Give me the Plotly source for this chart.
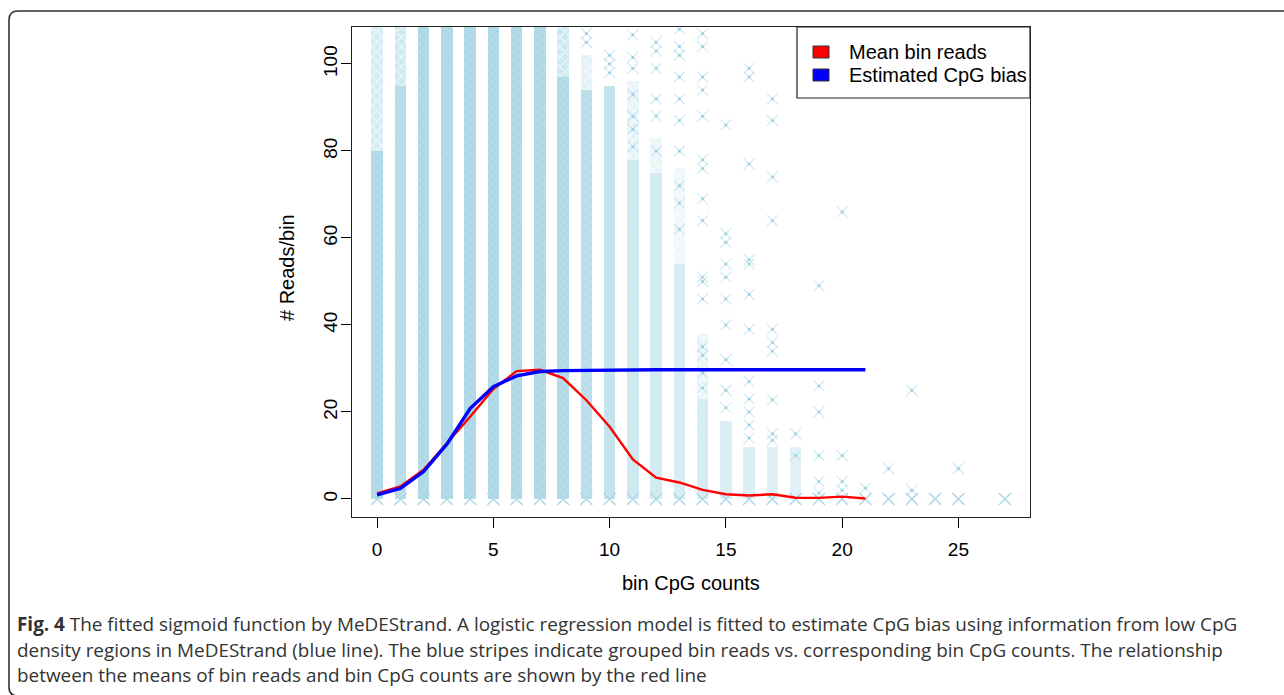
import plotly.graph_objects as go

# ---------------- data ----------------
cpg_counts = list(range(22))
mean_bin_reads = [1.3, 2.9, 6.7, 12.8, 18.9, 25.3, 29.4, 29.7, 27.8, 22.7, 16.6, 9.1,
                  4.9, 3.8, 2.1, 1.1, 0.8, 1.1, 0.3, 0.25, 0.55, 0.1]
est_cpg_bias = [0.95, 2.45, 6.3, 12.6, 20.8, 25.8, 28.3, 29.3, 29.5, 29.6, 29.65, 29.7,
                29.7, 29.7, 29.7, 29.7, 29.7, 29.7, 29.7, 29.7, 29.7, 29.7]

# dense stripes of bin reads per CpG count (top of dense core, density)
stripe_x = [0, 1, 2, 3, 4, 5, 6, 7, 8, 9, 10, 11, 12, 13, 14, 15, 16, 17, 18]
stripe_top = [80, 95, 112, 112, 112, 112, 112, 112, 97, 94, 95, 78, 75, 54, 23, 18, 12, 12, 12]
stripe_density = [1.0, 0.9, 1.0, 1.0, 1.0, 1.0, 1.0, 1.0, 0.95, 0.85, 0.75, 0.6, 0.55,
                  0.5, 0.5, 0.45, 0.45, 0.4, 0.35]

# lighter upper parts of stripes
halo_x = [0, 1, 8, 9, 11, 12, 13, 14]
halo_top = [112, 112, 112, 102, 96, 83, 76, 38]
halo_density = [0.5, 0.6, 0.6, 0.35, 0.3, 0.25, 0.2, 0.25]

# isolated bin reads (outliers) per CpG count
zero_cols = [0, 1, 2, 3, 4, 5, 6, 7, 8, 9, 10, 11, 12, 13, 14, 15, 16, 17, 18, 19, 20,
             21, 22, 23, 24, 25, 27]
reads_c9 = [107, 105]
reads_c10 = [102, 100, 98]
reads_c11 = [106.7, 101.5, 99, 93, 88, 85, 81]
reads_c12 = [105, 103, 99, 92, 88, 80]
reads_c13 = [108, 104, 102, 97, 92, 87, 80, 72, 68, 62]
reads_c14 = [107, 104, 97, 94, 88, 78, 76, 69, 64, 51, 50, 46, 35, 33, 29, 25.5]
reads_c15 = [86, 61, 59, 54, 51, 46, 40, 32, 25, 21]
reads_c16 = [99, 97, 77, 55, 54, 47, 39, 27, 23, 20, 17, 14]
reads_c17 = [92, 87, 74, 64, 39, 36, 34, 22.8, 15, 13.5]
reads_c18 = [15, 10]
reads_c19 = [49, 26, 20, 10, 4, 1.4]
reads_c20 = [66, 10, 4, 2]
reads_c21 = [2.5]
reads_c22 = [7]
reads_c23 = [25, 2]
reads_c25 = [7]

outliers = {9: reads_c9, 10: reads_c10, 11: reads_c11, 12: reads_c12, 13: reads_c13,
            14: reads_c14, 15: reads_c15, 16: reads_c16, 17: reads_c17, 18: reads_c18,
            19: reads_c19, 20: reads_c20, 21: reads_c21, 22: reads_c22, 23: reads_c23,
            25: reads_c25}

x_ticks = [0, 5, 10, 15, 20, 25]
y_ticks = [0, 20, 40, 60, 80, 100]

# ---------------- layout geometry ----------------
W, H = 1284, 695
L, R, T, B = 352, 1030, 27, 517   # plot area in pixels


def px(x):
    return (x - L) / (R - L)


def py(y):
    return (B - y) / (B - T)


LB = "rgb(173,216,230)"
fig = go.Figure()

# dense stripes
fig.add_trace(go.Bar(
    x=stripe_x, y=stripe_top, base=0, width=0.5,
    marker=dict(color=LB, opacity=stripe_density, line=dict(width=0),
                pattern=dict(shape="x", size=6, solidity=0.15,
                             fgcolor="rgba(255,255,255,0.35)", bgcolor=LB,
                             fillmode="replace")),
    showlegend=False, hoverinfo="skip"))

# lighter halo
fig.add_trace(go.Bar(
    x=halo_x, y=[t - stripe_top[stripe_x.index(c)] for c, t in zip(halo_x, halo_top)],
    base=[stripe_top[stripe_x.index(c)] for c in halo_x], width=0.5,
    marker=dict(color=LB, opacity=halo_density, line=dict(width=0),
                pattern=dict(shape="x", size=7, solidity=0.3,
                             fgcolor="rgba(255,255,255,0.7)", bgcolor=LB,
                             fillmode="replace")),
    showlegend=False, hoverinfo="skip"))

# outliers
ox, oy = [], []
for c, vals in outliers.items():
    for v in vals:
        ox.append(c)
        oy.append(v)
OC = "rgba(173,216,230,0.55)"
fig.add_trace(go.Scatter(
    x=ox, y=oy, mode="markers",
    marker=dict(symbol="x-thin-open", size=11, color=OC, line=dict(color=OC, width=1.2)),
    showlegend=False, hoverinfo="skip"))
fig.add_trace(go.Scatter(
    x=ox, y=oy, mode="markers",
    marker=dict(symbol="circle", size=3, color="rgba(150,205,225,0.9)", line=dict(width=0)),
    showlegend=False, hoverinfo="skip"))
# zero-read row
fig.add_trace(go.Scatter(
    x=zero_cols, y=[0] * len(zero_cols), mode="markers",
    marker=dict(symbol="x-thin-open", size=12, color=LB, line=dict(color=LB, width=1.6)),
    showlegend=False, hoverinfo="skip"))

# lines
fig.add_trace(go.Scatter(x=cpg_counts, y=mean_bin_reads, mode="lines",
                         line=dict(color="#ff0000", width=2.4), name="Mean bin reads",
                         showlegend=False))
fig.add_trace(go.Scatter(x=cpg_counts, y=est_cpg_bias, mode="lines",
                         line=dict(color="#0000ff", width=3.4), name="Estimated CpG bias",
                         showlegend=False))

axis_font = dict(family="Liberation Sans, Arial, sans-serif", size=19, color="black")
fig.update_xaxes(range=[-1.08, 28.08], tickvals=x_ticks, ticks="outside", ticklen=10,
                 tickwidth=1, tickcolor="black", showline=True, mirror=True,
                 linecolor="#222", linewidth=1.2, showgrid=False, zeroline=False,
                 tickfont=axis_font, ticklabelstandoff=5)
fig.update_yaxes(range=[-4.14, 108.5], tickvals=y_ticks, ticks="outside", ticklen=10,
                 tickwidth=1, tickcolor="black", showline=True, mirror=True,
                 linecolor="#222", linewidth=1.2, showgrid=False, zeroline=False,
                 tickfont=axis_font, tickangle=-90, ticklabelstandoff=-4)

shapes = []
# outer rounded frame
bx, by_top, by_bot, r = 9, 11, 696, 9
shapes.append(dict(
    type="path", xref="paper", yref="paper",
    path=(f"M {px(bx)},{py(by_bot - r)} L {px(bx)},{py(by_top + r)} "
          f"Q {px(bx)},{py(by_top)} {px(bx + r)},{py(by_top)} L {px(1300)},{py(by_top)} "
          f"M {px(bx)},{py(by_bot - r)} Q {px(bx)},{py(by_bot)} {px(bx + r)},{py(by_bot)} "
          f"L {px(1300)},{py(by_bot)}"),
    line=dict(color="#333", width=1.6)))
# legend box
shapes.append(dict(type="rect", xref="paper", yref="paper",
                   x0=px(797), x1=px(R), y0=py(98), y1=py(T),
                   line=dict(color="#222", width=1.2), fillcolor="white", layer="above"))
shapes.append(dict(type="rect", xref="paper", yref="paper",
                   x0=px(813), x1=px(829), y0=py(58), y1=py(46),
                   line=dict(color="#333", width=1), fillcolor="#ff0000", layer="above"))
shapes.append(dict(type="rect", xref="paper", yref="paper",
                   x0=px(813), x1=px(829), y0=py(81), y1=py(69),
                   line=dict(color="#333", width=1), fillcolor="#0000ff", layer="above"))

label_font = dict(family="Liberation Sans, Arial, sans-serif", size=20, color="black")
annotations = [
    dict(text="Mean bin reads", x=px(847), y=py(52), xref="paper", yref="paper",
         xanchor="left", yanchor="middle", showarrow=False, font=label_font),
    dict(text="Estimated CpG bias", x=px(847), y=py(75), xref="paper", yref="paper",
         xanchor="left", yanchor="middle", showarrow=False, font=label_font),
    dict(text="bin CpG counts", x=0.5, y=py(583), xref="paper", yref="paper",
         xanchor="center", yanchor="middle", showarrow=False, font=label_font),
    dict(text="# Reads/bin", x=px(287), y=py(268), xref="paper", yref="paper",
         xanchor="center", yanchor="middle", showarrow=False, textangle=-90, font=label_font),
]
cap_font = dict(family="Open Sans, Noto Sans, sans-serif", size=18.9, color="#333")
caption = [
    "<b>Fig. 4</b> The fitted sigmoid function by MeDEStrand. A logistic regression model is fitted to estimate CpG bias using information from low CpG",
    "density regions in MeDEStrand (blue line). The blue stripes indicate grouped bin reads vs. corresponding bin CpG counts. The relationship",
    "between the means of bin reads and bin CpG counts are shown by the red line",
]
for txt, yy in zip(caption, [624, 650, 675]):
    annotations.append(dict(text=txt, x=px(15), y=py(yy), xref="paper", yref="paper",
                            xanchor="left", yanchor="middle", showarrow=False, font=cap_font))

fig.update_layout(width=W, height=H, autosize=False,
                  margin=dict(l=L, r=W - R, t=T, b=H - B, pad=0),
                  paper_bgcolor="white", plot_bgcolor="white",
                  barmode="overlay", bargap=0, shapes=shapes, annotations=annotations)

fig.write_html("out.html", config={"displayModeBar": False},
               post_script="document.body.style.margin='0px';")
